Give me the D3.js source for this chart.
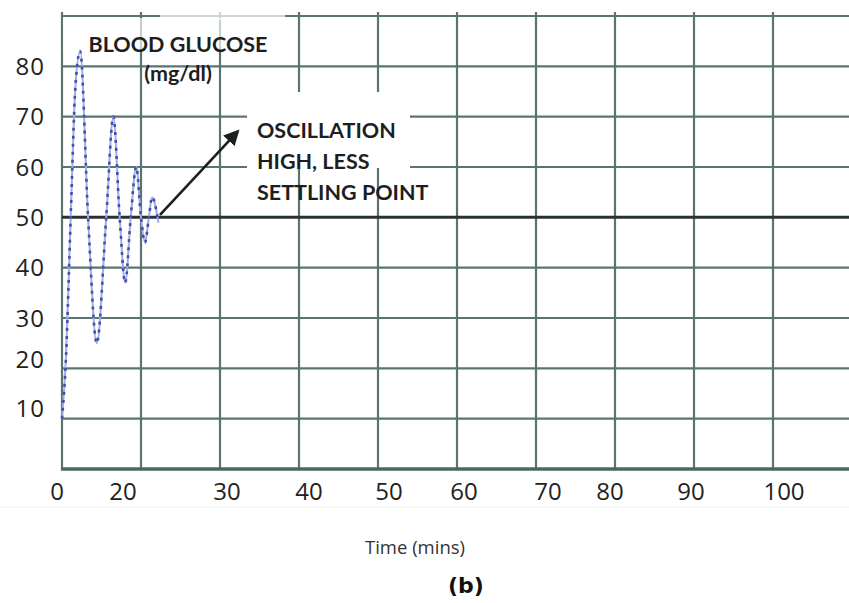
<!DOCTYPE html>
<html>
<head>
<meta charset="utf-8">
<script src="https://cdn.jsdelivr.net/npm/d3@7"></script>
<style>
  html, body { margin: 0; padding: 0; background: #ffffff; }
  svg { display: block; }
</style>
</head>
<body>
<svg id="chart" width="849" height="603"></svg>
<script>
// Blood glucose response: damped oscillation settling at 50 mg/dl
const timeValues    = [0, 0.5, 1.1, 1.7, 2.3, 3.3, 4.4, 5.6, 6.5, 7.3, 8.0, 8.7, 9.4, 10.0, 10.5, 11.0, 11.4, 12.2];
const glucoseValues = [10, 22, 50, 76, 83, 50, 25, 50, 70, 50, 37, 50, 60, 50, 45, 50, 54, 49];

// Axis ticks
const xGridValues = [0, 10, 20, 30, 40, 50, 60, 70, 80, 90];
const xTickLabels = ["0", "20", "30", "40", "50", "60", "70", "80", "90", "100"];
const yGridValues = [0, 10, 20, 30, 40, 50, 60, 70, 80, 90];
const yTickValues = [80, 70, 60, 50, 40, 30, 20, 10];
const setPoint = 50;

// Arrow annotation (data units)
const arrowFrom = [12.4, 50.5];
const arrowTo   = [22.2, 67.0];

// Hand-placed label offsets (px) for the tick text
const xLabelShift = [-5, -18, 7, 10, 11, 7, 12, -5, -3, 11];
const yLabelShift = { 20: -9, 10: -10 };

(function draw() {
  const svg = d3.select("#chart");
  const plotLeft = 62, plotRight = 852, plotTop = 16, plotBottom = 469;

  const x = d3.scaleLinear().domain([0, 100]).range([plotLeft, plotRight]);
  const y = d3.scaleLinear().domain([0, 90]).range([plotBottom, plotTop]);

  const gridColor = "#5a756f";

  // faint edge of the plot panel
  svg.append("line")
    .attr("x1", 0).attr("x2", 849).attr("y1", 507).attr("y2", 507)
    .attr("stroke", "#eef1f0").attr("stroke-width", 1);

  // horizontal grid lines
  svg.append("g").selectAll("line")
    .data(yGridValues.filter(v => v !== setPoint && v !== 0))
    .join("line")
    .attr("x1", plotLeft).attr("x2", 849)
    .attr("y1", d => y(d)).attr("y2", d => y(d))
    .attr("stroke", gridColor).attr("stroke-width", 2.2);

  // vertical grid lines
  svg.append("g").selectAll("line")
    .data(xGridValues)
    .join("line")
    .attr("x1", d => x(d)).attr("x2", d => x(d))
    .attr("y1", plotTop - 4).attr("y2", plotBottom)
    .attr("stroke", gridColor).attr("stroke-width", 2.2);

  // bottom axis line
  svg.append("line")
    .attr("x1", plotLeft - 1).attr("x2", 849)
    .attr("y1", y(0)).attr("y2", y(0))
    .attr("stroke", "#4a6862").attr("stroke-width", 3.4);

  // set-point line
  svg.append("line")
    .attr("x1", plotLeft).attr("x2", 849)
    .attr("y1", y(setPoint)).attr("y2", y(setPoint))
    .attr("stroke", "#26332f").attr("stroke-width", 3);

  // white label backgrounds
  svg.append("rect").attr("x", plotLeft + 1).attr("y", 18).attr("width", 222).attr("height", 34)
    .attr("fill", "#ffffff").attr("opacity", 0.65);
  svg.append("rect").attr("x", 160).attr("y", 10).attr("width", 125).attr("height", 10)
    .attr("fill", "#ffffff").attr("opacity", 0.7);
  svg.append("rect").attr("x", 247).attr("y", 92).attr("width", 163).attr("height", 76)
    .attr("fill", "#ffffff");

  // glucose curve: light line with a dotted overlay
  const line = d3.line()
    .x((d, i) => x(timeValues[i]))
    .y(d => y(d))
    .curve(d3.curveMonotoneX);

  svg.append("path")
    .attr("d", line(glucoseValues))
    .attr("fill", "none")
    .attr("stroke", "#a3acdd")
    .attr("stroke-width", 2);
  svg.append("path")
    .attr("d", line(glucoseValues))
    .attr("fill", "none")
    .attr("stroke", "#3f51b0")
    .attr("stroke-width", 2.6)
    .attr("stroke-dasharray", "3,5");

  // arrow
  svg.append("defs").append("marker")
    .attr("id", "head")
    .attr("viewBox", "0 0 10 10")
    .attr("refX", 8).attr("refY", 5)
    .attr("markerWidth", 6).attr("markerHeight", 6)
    .attr("markerUnits", "strokeWidth")
    .attr("orient", "auto")
    .append("path").attr("d", "M0,0 L10,5 L0,10 Z").attr("fill", "#1b1f1e");

  svg.append("line")
    .attr("x1", x(arrowFrom[0])).attr("y1", y(arrowFrom[1]))
    .attr("x2", x(arrowTo[0])).attr("y2", y(arrowTo[1]))
    .attr("stroke", "#1b1f1e").attr("stroke-width", 2.6)
    .attr("marker-end", "url(#head)");

  // annotation text
  const annFont = "Lato, 'Open Sans', sans-serif";
  const annSize = 21.5;
  svg.append("text").attr("x", 178).attr("y", 52)
    .attr("text-anchor", "middle")
    .attr("font-family", annFont).attr("font-weight", 700).attr("font-size", annSize)
    .attr("fill", "#1e1e1e").text("BLOOD GLUCOSE");
  svg.append("text").attr("x", 178).attr("y", 81)
    .attr("text-anchor", "middle")
    .attr("font-family", annFont).attr("font-weight", 700).attr("font-size", annSize)
    .attr("fill", "#1e1e1e").text("(mg/dl)");

  const oscLines = ["OSCILLATION", "HIGH, LESS", "SETTLING POINT"];
  svg.append("g").selectAll("text")
    .data(oscLines)
    .join("text")
    .attr("x", 257)
    .attr("y", (d, i) => 138 + i * 31)
    .attr("font-family", annFont).attr("font-weight", 700).attr("font-size", annSize)
    .attr("fill", "#1e1e1e")
    .text(d => d);

  // y tick labels
  svg.append("g").selectAll("text")
    .data(yTickValues)
    .join("text")
    .attr("x", 45)
    .attr("y", d => y(d) + (yLabelShift[d] || 0))
    .attr("dy", "0.36em")
    .attr("text-anchor", "end")
    .attr("font-family", "'Open Sans', sans-serif")
    .attr("font-size", 24)
    .attr("letter-spacing", 1)
    .attr("fill", "#222")
    .text(d => d);

  // x tick labels
  svg.append("g").selectAll("text")
    .data(xGridValues)
    .join("text")
    .attr("x", (d, i) => x(d) + xLabelShift[i])
    .attr("y", 500)
    .attr("text-anchor", "middle")
    .attr("font-family", "'Open Sans', sans-serif")
    .attr("font-size", 24)
    .attr("fill", "#222")
    .text((d, i) => xTickLabels[i]);

  // axis title and panel tag
  svg.append("text").attr("x", 415).attr("y", 554)
    .attr("text-anchor", "middle")
    .attr("font-family", "'Open Sans', sans-serif").attr("font-size", 18.5)
    .attr("fill", "#333").text("Time (mins)");
  svg.append("text").attr("x", 466).attr("y", 593)
    .attr("text-anchor", "middle")
    .attr("font-family", "'DejaVu Sans', sans-serif").attr("font-weight", 700).attr("font-size", 22)
    .attr("fill", "#111").text("(b)");
})();
</script>
</body>
</html>
